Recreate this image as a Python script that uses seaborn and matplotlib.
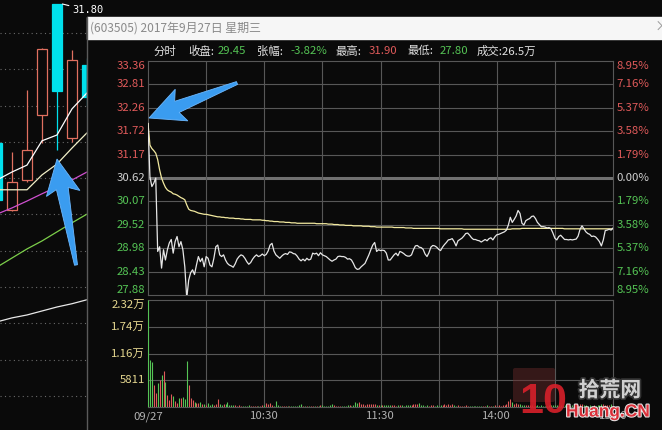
import numpy as np
import pandas as pd
import seaborn as sns
import matplotlib.pyplot as plt
from matplotlib.patches import Rectangle, Polygon, FancyBboxPatch
import matplotlib.patheffects as pe

# ---------------- data ----------------
pre_close = 30.62

# intraday price, one value per minute (09:30 .. 11:30 | 13:00 .. 15:00)
price = [
    31.90, 30.65, 30.42, 30.50, 30.62, 28.90, 29.01, 28.51, 28.94, 28.70,
    28.94, 29.10, 29.18, 28.86, 29.13, 29.25, 29.01, 29.13, 28.94, 28.54,
    27.80, 28.23, 28.40, 28.47, 28.36, 28.58, 28.78, 28.66, 28.74, 28.54,
    28.78, 28.74, 28.58, 28.54, 28.74, 29.01, 29.05, 28.82, 28.78, 28.82,
    28.70, 28.62, 28.58, 28.56, 28.53, 28.61, 28.72, 28.78, 28.82, 28.80,
    28.74, 28.66, 28.60, 28.64, 28.72, 28.78, 28.82, 28.78, 28.80, 28.84,
    28.80, 28.83, 28.91, 29.05, 29.09, 28.91, 28.82, 28.78, 28.74, 28.79,
    28.83, 28.85, 28.83, 28.89, 28.88, 28.85, 28.84, 28.79, 28.72, 28.68,
    28.72, 28.68, 28.74, 28.70, 28.72, 28.86, 28.84, 28.86, 28.80, 28.87,
    28.82, 28.80, 28.78, 28.74, 28.70, 28.67, 28.70, 28.72, 28.78, 28.79,
    28.78, 28.78, 28.76, 28.72, 28.73, 28.70, 28.62, 28.52, 28.48, 28.49,
    28.54, 28.58, 28.62, 28.72, 28.82, 28.94, 29.05, 29.11, 28.90, 28.94,
    28.92, 28.93, 28.92, 28.86, 28.70, 28.70, 28.76, 28.82, 28.86, 28.80,
    28.90, 28.88, 28.85, 28.81, 28.79, 28.79, 28.82, 28.94, 29.03, 29.04,
    29.00, 28.99, 28.95, 28.84, 28.78, 28.87, 29.00, 29.04, 29.03, 29.00,
    28.95, 28.92, 29.00, 29.06, 29.11, 29.17, 29.18, 29.20, 29.13, 29.03,
    29.15, 29.18, 29.21, 29.26, 29.32, 29.33, 29.28, 29.22, 29.18, 29.18,
    29.16, 29.15, 29.12, 29.15, 29.18, 29.15, 29.20, 29.22, 29.17, 29.24,
    29.29, 29.30, 29.32, 29.34, 29.36, 29.40, 29.52, 29.70, 29.58, 29.65,
    29.73, 29.86, 29.79, 29.56, 29.52, 29.62, 29.65, 29.67, 29.72, 29.73,
    29.67, 29.58, 29.53, 29.48, 29.48, 29.47, 29.45, 29.46, 29.43, 29.33,
    29.21, 29.17, 29.25, 29.28, 29.23, 29.18, 29.18, 29.17, 29.18, 29.17,
    29.18, 29.19, 29.26, 29.42, 29.50, 29.43, 29.36, 29.32, 29.30, 29.25,
    29.26, 29.24, 29.19, 29.13, 29.03, 29.17, 29.39, 29.40, 29.42, 29.40,
    29.45,
]

avg_price = [
    31.90, 31.39, 31.31, 31.26, 31.20, 31.05, 30.81, 30.62, 30.50, 30.40,
    30.34, 30.31, 30.29, 30.25, 30.24, 30.22, 30.19, 30.16, 30.14, 30.11,
    29.99, 29.89, 29.86, 29.85, 29.84, 29.82, 29.80, 29.79, 29.78, 29.77,
    29.77, 29.76, 29.75, 29.74, 29.73, 29.72, 29.71, 29.71, 29.70, 29.70,
    29.69, 29.69, 29.68, 29.68, 29.68, 29.67, 29.67, 29.67, 29.66, 29.66,
    29.65, 29.65, 29.65, 29.65, 29.64, 29.64, 29.64, 29.64, 29.64, 29.63,
    29.63, 29.62, 29.62, 29.61, 29.61, 29.60, 29.60, 29.60, 29.59, 29.59,
    29.59, 29.58, 29.58, 29.58, 29.57, 29.57, 29.57, 29.56, 29.56, 29.56,
    29.56, 29.56, 29.56, 29.56, 29.56, 29.56, 29.56, 29.55, 29.55, 29.55,
    29.55, 29.55, 29.55, 29.54, 29.54, 29.54, 29.53, 29.53, 29.53, 29.52,
    29.52, 29.52, 29.51, 29.51, 29.51, 29.51, 29.50, 29.50, 29.50, 29.50,
    29.50, 29.49, 29.49, 29.49, 29.49, 29.48, 29.48, 29.48, 29.47, 29.47,
    29.47, 29.47, 29.47, 29.47, 29.47, 29.47, 29.47, 29.46, 29.46, 29.46,
    29.46, 29.46, 29.46, 29.45, 29.45, 29.45, 29.45, 29.44, 29.44, 29.44,
    29.44, 29.44, 29.44, 29.44, 29.44, 29.44, 29.44, 29.44, 29.44, 29.44,
    29.44, 29.43, 29.43, 29.43, 29.43, 29.43, 29.43, 29.43, 29.43, 29.43,
    29.43, 29.43, 29.43, 29.42, 29.42, 29.42, 29.42, 29.42, 29.42, 29.42,
    29.42, 29.42, 29.42, 29.42, 29.42, 29.42, 29.42, 29.42, 29.42, 29.42,
    29.42, 29.42, 29.42, 29.42, 29.42, 29.42, 29.42, 29.42, 29.43, 29.43,
    29.43, 29.43, 29.43, 29.44, 29.44, 29.44, 29.44, 29.44, 29.44, 29.44,
    29.44, 29.44, 29.44, 29.44, 29.44, 29.44, 29.44, 29.44, 29.44, 29.44,
    29.44, 29.44, 29.44, 29.44, 29.44, 29.43, 29.43, 29.43, 29.43, 29.43,
    29.43, 29.43, 29.43, 29.43, 29.43, 29.43, 29.43, 29.43, 29.43, 29.43,
    29.43, 29.43, 29.43, 29.43, 29.43, 29.43, 29.43, 29.43, 29.43, 29.43,
    29.43,
]

volume = [
    23244, 10200, 9850, 4780, 2970, 5140, 5860, 6950, 7820, 5500,
    2600, 1520, 2820, 2390, 1300, 940, 1880, 1880, 2100, 1700,
    9990, 4780, 1880, 1520, 1160, 940, 800, 1160, 650, 580,
    430, 800, 510, 650, 430, 580, 1660, 720, 430, 580,
    650, 1160, 510, 430, 430, 360, 290, 360, 290, 290,
    220, 290, 360, 290, 220, 290, 290, 220, 290, 360,
    430, 800, 650, 800, 430, 290, 1300, 360, 290, 220,
    290, 220, 220, 290, 220, 290, 220, 290, 360, 580,
    290, 220, 290, 220, 290, 220, 290, 220, 290, 360,
    430, 290, 220, 290, 360, 650, 360, 290, 220, 290,
    290, 220, 290, 360, 430, 290, 360, 1000, 870, 1000,
    650, 580, 430, 580, 720, 650, 580, 720, 430, 360,
    500, 430, 360, 430, 500, 360, 430, 360, 290, 360,
    430, 360, 290, 360, 430, 360, 430, 650, 720, 580,
    800, 430, 360, 290, 360, 290, 360, 430, 290, 360,
    290, 360, 430, 580, 500, 650, 430, 720, 360, 290,
    360, 290, 220, 290, 360, 290, 220, 290, 220, 290,
    290, 220, 290, 220, 290, 360, 290, 220, 290, 360,
    290, 360, 290, 360, 430, 580, 1300, 1660, 1160, 720,
    800, 650, 580, 430, 360, 430, 360, 430, 360, 290,
    290, 360, 290, 360, 290, 220, 290, 360, 430, 500,
    430, 360, 290, 360, 290, 360, 290, 220, 290, 360,
    290, 360, 430, 650, 580, 430, 360, 290, 360, 290,
    360, 290, 360, 430, 580, 720, 500, 360, 430, 580,
    1300,
]

price_ticks = [33.36, 32.81, 32.26, 31.72, 31.17, 30.62, 30.07, 29.52, 28.98, 28.43, 27.88]
pct_labels = ['8.95%', '7.16%', '5.37%', '3.58%', '1.79%', '0.00%',
              '1.79%', '3.58%', '5.37%', '7.16%', '8.95%']
vol_ticks = [23244, 17433, 11622, 5811]
vol_labels = ['2.32万', '1.74万', '1.16万', '5811']
time_ticks = [0, 60, 120, 180, 240]
time_labels = ['09/27', '10:30', '11:30', '14:00', '15:00']

# daily k-line behind the popup
k_idx = [0, 1, 2, 3, 4, 5, 6]
k_open = [27.97, 26.13, 26.95, 28.74, 31.80, 28.11, 30.12]
k_close = [26.40, 26.90, 27.78, 30.56, 29.40, 30.26, 29.24]
k_high = [28.05, 27.72, 29.43, 30.60, 31.80, 30.53, 30.30]
k_low = [26.30, 26.10, 26.90, 27.97, 27.78, 28.00, 29.00]
ma5 = [26.95, 27.17, 27.36, 28.03, 28.19, 28.91, 29.35]
ma10 = [26.68, 26.68, 26.68, 27.09, 27.39, 27.83, 28.25]
ma20 = [26.01, 26.18, 26.37, 26.57, 26.76, 26.95, 27.17]
ma60 = [24.55, 24.80, 25.05, 25.27, 25.52, 25.77, 26.01]
ma120 = [23.04, 23.15, 23.23, 23.34, 23.45, 23.54, 23.65]

# ---------------- style ----------------
BG = '#0a0a0a'
GRID = '#575757'
RED = '#e05a5a'
GREEN = '#55c455'
TXT = '#e0e0e0'
sns.set_style('dark', rc={'axes.facecolor': BG, 'figure.facecolor': BG})
plt.rcParams['font.family'] = ['Noto Sans CJK SC', 'DejaVu Sans']

W, H = 662, 430
fig = plt.figure(figsize=(W / 100, H / 100), dpi=100)


def px_rect(x0, y0, x1, y1):
    return [x0 / W, 1 - y1 / H, (x1 - x0) / W, (y1 - y0) / H]


# ---------------- background daily chart ----------------
ax_bg = fig.add_axes(px_rect(0, 0, 87, 430))
ax_bg.set_zorder(0)
ax_bg.set_xlim(0.2, 6.0)
ax_bg.set_ylim(20.06, 31.91)
ax_bg.set_axis_off()
for lv in range(21, 32):
    ax_bg.axhline(lv, color='#6a6a6a', lw=0.8, ls=(0, (1, 3)), zorder=1)

for i, o, c, hi, lo in zip(k_idx, k_open, k_close, k_high, k_low):
    up = c >= o
    col = '#e07060' if up else '#00e0ec'
    ax_bg.vlines(i, lo, hi, color=col, lw=0.9, zorder=2)
    ax_bg.bar(i, abs(c - o), bottom=min(o, c), width=0.68,
              color=BG if up else col, edgecolor=col, lw=0.9, zorder=3)

for ma, col in [(ma120, '#e8e8e8'), (ma60, '#7ccf4a'), (ma20, '#d050d0'),
                (ma10, '#f2f0c8'), (ma5, '#ffffff')]:
    sns.lineplot(x=k_idx, y=ma, ax=ax_bg, color=col, lw=0.9, zorder=4)

ax_bg.annotate('31.80', xy=(4.36, 31.80), xytext=(7, -4.5), textcoords='offset points',
               color='white', fontsize=7.5, ha='left', va='center',
               family=['DejaVu Sans Mono'], annotation_clip=False,
               arrowprops=dict(arrowstyle='-', color='white', lw=0.8,
                               shrinkA=0, shrinkB=0))

# ---------------- popup frame ----------------
ax_pop = fig.add_axes(px_rect(0, 0, W, H))
ax_pop.set_zorder(1)
ax_pop.set_xlim(0, W)
ax_pop.set_ylim(H, 0)
ax_pop.set_facecolor('none')
ax_pop.set_axis_off()
ax_pop.add_patch(Rectangle((87, 39), W - 87, H - 39, color=BG, zorder=1))
ax_pop.add_patch(Rectangle((87, 17), W - 87, 22, color='#f6f6f6', zorder=2))
ax_pop.plot([87, 87], [17, H], color='#5a5a5a', lw=1, zorder=3)
ax_pop.text(90, 28, '(603505) 2017年9月27日 星期三', color='#8a8a8a',
            fontsize=8.6, va='center', ha='left', zorder=4)
ax_pop.text(655, 27, '×', color='#9a9a9a', fontsize=10, va='center', ha='left', zorder=4)

header = [
    (153, '分时', TXT), (188, '收盘:', TXT), (218, '29.45', GREEN),
    (257, '张幅:', TXT), (290, '-3.82%', GREEN), (335, '最高:', TXT),
    (369, '31.90', RED), (407, '最低:', TXT), (440, '27.80', GREEN),
    (477, '成交:26.5万', TXT),
]
for x, s, col in header:
    ax_pop.text(x, 51, s, color=col, fontsize=8.2, va='center', ha='left', zorder=4)

# ---------------- intraday price ----------------
minutes = np.arange(len(price))
df = pd.DataFrame({'minute': minutes, 'price': price, 'avg': avg_price, 'volume': volume})

ax_p = fig.add_axes(px_rect(148, 61, 613, 295))
ax_p.set_zorder(2)
ax_p.set_xlim(0, 240)
ax_p.set_ylim(price_ticks[-1], price_ticks[0])
for v in price_ticks[1:-1]:
    if v == pre_close:
        ax_p.axhline(v, color='#707070', lw=2.2, zorder=1)
    else:
        ax_p.axhline(v, color=GRID, lw=0.8, zorder=1)
for t in range(30, 240, 30):
    ax_p.axvline(t, color=GRID, lw=0.8, zorder=1)
sns.lineplot(data=df, x='minute', y='avg', ax=ax_p, color='#f3eaa0', lw=0.9, zorder=3)
sns.lineplot(data=df, x='minute', y='price', ax=ax_p, color='#e6e6e6', lw=0.9, zorder=4)
ax_p.set_xticks([])
ax_p.set_yticks([])
ax_p.set_xlabel('')
ax_p.set_ylabel('')
for sp in ax_p.spines.values():
    sp.set_color(GRID)
    sp.set_linewidth(0.8)

ytr = ax_p.get_yaxis_transform()
for k, (v, pl) in enumerate(zip(price_ticks, pct_labels)):
    col = RED if v > pre_close else (GREEN if v < pre_close else '#d0d0d0')
    va = 'top' if k == 0 else ('bottom' if k == len(price_ticks) - 1 else 'center')
    ax_p.text(-0.006, v, f'{v:.2f}', transform=ytr, color=col, fontsize=8.2,
              ha='right', va=va)
    ax_p.text(1.008, v, pl, transform=ytr, color=col, fontsize=8.2,
              ha='left', va=va)

# ---------------- volume ----------------
ax_v = fig.add_axes(px_rect(148, 300, 613, 407))
ax_v.set_zorder(2)
ax_v.set_xlim(0, 240)
ax_v.set_ylim(0, vol_ticks[0])
for v in vol_ticks[1:]:
    ax_v.axhline(v, color=GRID, lw=0.8, zorder=1)
for t in range(30, 240, 30):
    ax_v.axvline(t, color=GRID, lw=0.8, zorder=1)
chg = np.diff(df['price'].to_numpy(), prepend=df['price'].iloc[0])
bar_cols = [RED if d > 0 else GREEN for d in chg]
ax_v.vlines(df['minute'], 0, df['volume'], colors=bar_cols, lw=0.8, zorder=3)
ax_v.set_yticks([])
ax_v.set_xticks(time_ticks)
ax_v.set_xticklabels(time_labels, color='#b0b0b0', fontsize=8.2)
ax_v.tick_params(axis='x', length=0, pad=3)
for sp in ax_v.spines.values():
    sp.set_color(GRID)
    sp.set_linewidth(0.8)
vtr = ax_v.get_yaxis_transform()
for k, (v, s) in enumerate(zip(vol_ticks, vol_labels)):
    ax_v.text(-0.006, v, s, transform=vtr, color='#e6d890', fontsize=8.2,
              ha='right', va='top' if k == 0 else 'center')

# ---------------- annotations (arrows + watermark) ----------------
ax_top = fig.add_axes(px_rect(0, 0, W, H))
ax_top.set_zorder(5)
ax_top.set_xlim(0, W)
ax_top.set_ylim(H, 0)
ax_top.set_facecolor('none')
ax_top.set_axis_off()


def arrow_poly(tail, tip, head_len, head_w, shaft_w, tail_w, notch):
    tail = np.array(tail, float)
    tip = np.array(tip, float)
    u = (tip - tail) / np.linalg.norm(tip - tail)
    n = np.array([-u[1], u[0]])
    base = tip - u * head_len
    pts = [tip,
           base - u * notch + n * head_w / 2,
           base + n * shaft_w / 2,
           tail + n * tail_w / 2,
           tail - n * tail_w / 2,
           base - n * shaft_w / 2,
           base - u * notch - n * head_w / 2]
    return pts


for tail, tip in [((237, 83), (149, 118)), ((76, 265), (57, 159))]:
    ax_top.add_patch(Polygon(arrow_poly(tail, tip, 30, 34, 12, 3, 5),
                             closed=True, facecolor='#3a9cf0', edgecolor='#6cb8ff',
                             lw=0.6, zorder=5))

ax_top.add_patch(FancyBboxPatch((515, 370), 38, 30, boxstyle='round,pad=2',
                                facecolor='#6a2a2a', edgecolor='none', alpha=0.45, zorder=6))
ax_top.text(543, 402, '10', color='#d8202a', fontsize=31, fontweight='bold',
            family=['Liberation Sans'], ha='center', va='center', alpha=0.9, zorder=7)
ax_top.text(610, 390, '拾荒网', color='#e8e8e8', fontsize=15, fontweight='bold',
            ha='center', va='center', alpha=0.85, zorder=7,
            path_effects=[pe.withStroke(linewidth=2.5, foreground='#3a3a3a')])
ax_top.text(608, 412, 'Huang.CN', color='#d8202a', fontsize=12.5, fontweight='bold',
            family=['Liberation Sans'], ha='center', va='center', alpha=0.9, zorder=7,
            path_effects=[pe.withStroke(linewidth=1.5, foreground='#ffffff')])

fig.savefig('out.png', dpi=100, facecolor=BG)
